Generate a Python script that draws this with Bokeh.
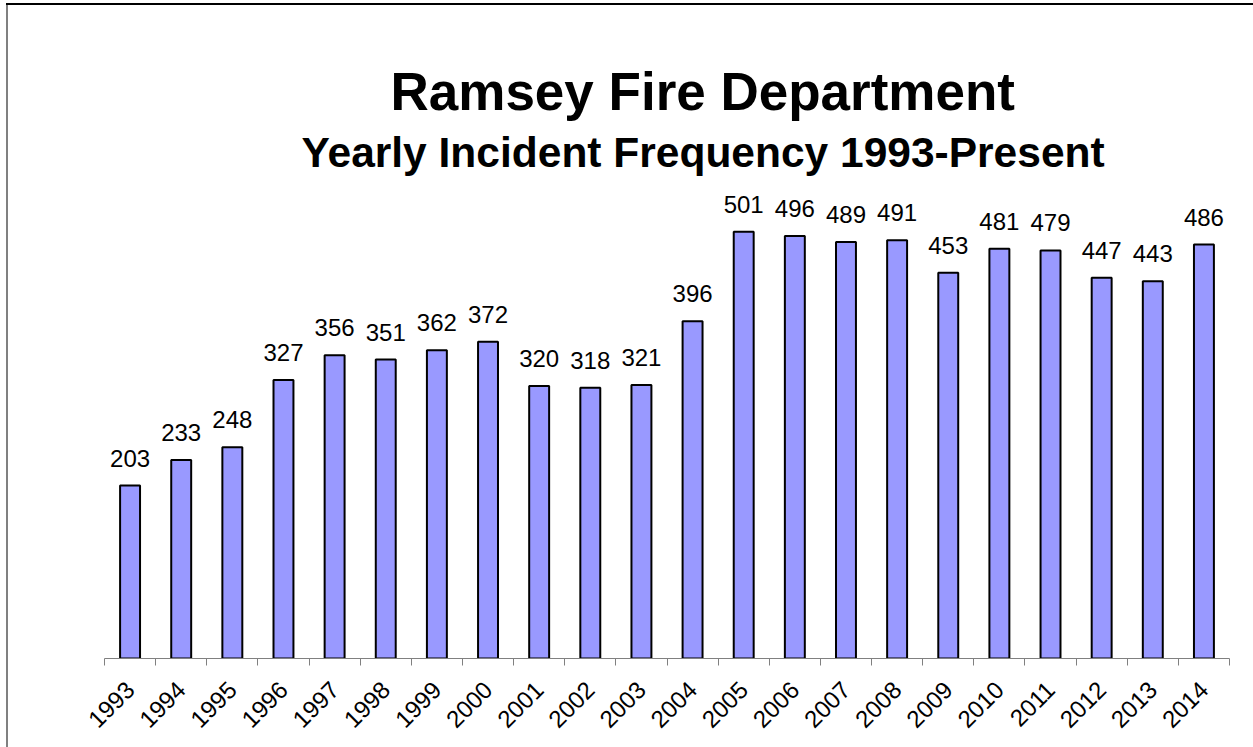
import math
from bokeh.plotting import figure
from bokeh.models import ColumnDataSource, LabelSet, FixedTicker, Title, Range1d
from bokeh.core.properties import value
from bokeh.embed import file_html
from bokeh.resources import INLINE

years = ["1993", "1994", "1995", "1996", "1997", "1998", "1999", "2000", "2001", "2002", "2003",
         "2004", "2005", "2006", "2007", "2008", "2009", "2010", "2011", "2012", "2013", "2014"]
incidents = [203, 233, 248, 327, 356, 351, 362, 372, 320, 318, 321,
             396, 501, 496, 489, 491, 453, 481, 479, 447, 443, 486]

idx = list(range(len(years)))
src = ColumnDataSource(dict(x=idx, n=incidents, lbl=[str(v) for v in incidents]))

FONT = "Liberation Sans"

p = figure(width=1253, height=747, x_range=Range1d(-0.5, len(years) - 0.5), y_range=Range1d(0, 560),
           output_backend="svg", toolbar_location=None,
           min_border_left=104, min_border_right=24, min_border_top=181, min_border_bottom=89)
p.border_fill_color = None
p.styles = {
    "background-color": "white",
    "box-shadow": "inset 0 3px 0 0 white, inset 6px 0 0 0 white, inset 0 5px 0 0 black, inset 8px 0 0 0 #808080",
}

p.vbar(x="x", top="n", width=0.39, fill_color="#9999FF", line_color="black", line_width=2, source=src)

labels = LabelSet(x="x", y="n", text="lbl", source=src, text_align="center", text_baseline="bottom",
                  y_offset=19, text_font=value(FONT), text_font_size="24px", text_color="black")
p.add_layout(labels)

p.yaxis.visible = False
p.grid.visible = False
p.outline_line_color = None
p.background_fill_color = "white"

ax = p.xaxis[0]
ax.ticker = FixedTicker(ticks=idx, minor_ticks=[i - 0.5 for i in range(len(years) + 1)])
ax.major_label_overrides = {i: y for i, y in zip(idx, years)}
ax.major_tick_out = 0
ax.major_tick_in = 0
ax.minor_tick_out = 7
ax.minor_tick_in = 0
ax.minor_tick_line_color = "#808080"
ax.axis_line_color = "#808080"
ax.major_label_orientation = math.pi / 4
ax.major_label_text_font = FONT
ax.major_label_text_font_size = "24px"
ax.major_label_text_color = "black"
ax.major_label_standoff = 20

p.add_layout(Title(text="Yearly Incident Frequency 1993-Present", align="left", offset=197, standoff=12,
                   text_font=FONT, text_font_size="42.5px", text_font_style="bold", text_color="black"), "above")
p.add_layout(Title(text="Ramsey Fire Department", align="left", offset=286, standoff=0,
                   text_font=FONT, text_font_size="53px", text_font_style="bold", text_color="black"), "above")

open("out.html", "w").write(file_html(p, INLINE))
